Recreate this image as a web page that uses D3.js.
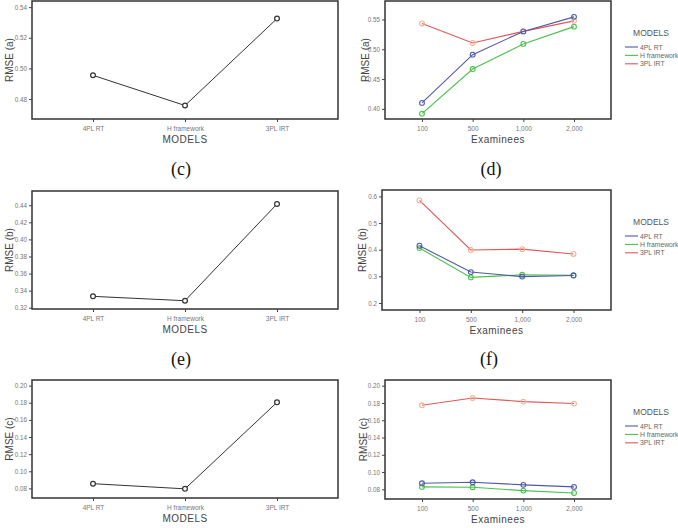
<!DOCTYPE html>
<html><head><meta charset="utf-8">
<script src="https://cdn.jsdelivr.net/npm/d3@7"></script>
<style>
html,body{margin:0;padding:0;background:#fff;}
svg{display:block;}
</style></head>
<body>
<svg id="chart" width="678" height="528"></svg>
<script>
// ---- data ----
const models = ["4PL RT", "H framework", "3PL IRT"];
const examinees = ["100", "500", "1,000", "2,000"];

const rmseA_models = [0.4955, 0.4758, 0.5325];
const rmseB_models = [0.3333, 0.3282, 0.4415];
const rmseC_models = [0.0855, 0.0795, 0.1805];

const rmseA_4PL = [0.410, 0.491, 0.530, 0.5544];
const rmseA_H   = [0.392, 0.4668, 0.509, 0.538];
const rmseA_3PL = [0.5433, 0.5106, 0.530, 0.5477];

const rmseB_4PL = [0.415, 0.316, 0.299, 0.303];
const rmseB_H   = [0.406, 0.296, 0.306, 0.304];
const rmseB_3PL = [0.585, 0.399, 0.402, 0.384];

const rmseC_4PL = [0.0870, 0.0882, 0.0852, 0.0828];
const rmseC_H   = [0.0828, 0.0824, 0.0785, 0.0758];
const rmseC_3PL = [0.1773, 0.1858, 0.1816, 0.1793];

const ticksA_left = [0.48, 0.50, 0.52, 0.54];
const ticksA_right = [0.40, 0.45, 0.50, 0.55];
const ticksB_left = [0.32, 0.34, 0.36, 0.38, 0.40, 0.42, 0.44];
const ticksB_right = [0.2, 0.3, 0.4, 0.5, 0.6];
const ticksC = [0.08, 0.10, 0.12, 0.14, 0.16, 0.18, 0.20];

const seriesNames = ["4PL RT", "H framework", "3PL IRT"];
const lineColors = ["#4e5aa8", "#4cc04c", "#e05858"];
const markerColors = ["#4e5aa8", "#4cc04c", "#f0b496"];

const svg = d3.select("#chart");
const tickFont = "Liberation Sans, Arial, sans-serif";

function frame(g, f) {
  g.append("rect").attr("x", f.x0).attr("y", f.y0)
    .attr("width", f.x1 - f.x0).attr("height", f.y1 - f.y0)
    .attr("fill", "none").attr("stroke", "#333").attr("stroke-width", 1.5);
}

function axes(g, f, x, y, yTicks, yFmt, xLabel, yLabel, yLabelX) {
  const ya = d3.axisLeft(y).tickValues(yTicks).tickFormat(yFmt).tickSize(3).tickPadding(2);
  const gy = g.append("g").attr("transform", `translate(${f.x0},0)`).call(ya);
  gy.select(".domain").remove();
  gy.selectAll("line").attr("stroke", "#444");
  gy.selectAll("text").attr("font-family", tickFont).attr("font-size", 6.3).attr("fill", "#777");
  const xa = d3.axisBottom(x).tickSize(3).tickPadding(4);
  const gx = g.append("g").attr("transform", `translate(0,${f.y1})`).call(xa);
  gx.select(".domain").remove();
  gx.selectAll("line").attr("stroke", "#444");
  gx.selectAll("text").attr("font-family", tickFont).attr("font-size", 6.5).attr("fill", "#777");
  g.append("text").attr("x", (f.x0 + f.x1) / 2).attr("y", f.y1 + 24)
    .attr("text-anchor", "middle").attr("font-family", tickFont).attr("font-size", 10)
    .attr("letter-spacing", 0.5).attr("fill", "#444").text(xLabel);
  g.append("text").attr("transform", `translate(${yLabelX},${(f.y0 + f.y1) / 2}) rotate(-90)`)
    .attr("text-anchor", "middle").attr("dominant-baseline", "central")
    .attr("font-family", tickFont).attr("font-size", 10)
    .attr("fill", "#444").text(yLabel);
}

function modelPanel(f, vals, yDomain, yTicks, yLabel) {
  const g = svg.append("g");
  const x = d3.scalePoint().domain(models).range([f.x0, f.x1]).padding(0.663);
  const y = d3.scaleLinear().domain(yDomain).range([f.y1, f.y0]);
  frame(g, f);
  axes(g, f, x, y, yTicks, d3.format(".2f"), "MODELS", yLabel, 9);
  const data = models.map((m, i) => ({ k: m, v: vals[i] }));
  g.append("path").datum(data)
    .attr("d", d3.line().x(d => x(d.k)).y(d => y(d.v)))
    .attr("fill", "none").attr("stroke", "#333").attr("stroke-width", 1);
  g.selectAll("circle.m").data(data).join("circle")
    .attr("cx", d => x(d.k)).attr("cy", d => y(d.v)).attr("r", 2.4)
    .attr("fill", "#fff").attr("stroke", "#333").attr("stroke-width", 1.2);
}

function examPanel(f, seriesVals, yDomain, yTicks, yFmt, yLabel, yLabelX, legendY) {
  const g = svg.append("g");
  const x = d3.scalePoint().domain(examinees).range([f.x0, f.x1]).padding(0.73);
  const y = d3.scaleLinear().domain(yDomain).range([f.y1, f.y0]);
  frame(g, f);
  axes(g, f, x, y, yTicks, yFmt, "Examinees", yLabel, yLabelX);
  const order = [2, 1, 0];
  order.forEach(si => {
    const data = examinees.map((e, i) => ({ k: e, v: seriesVals[si][i] }));
    g.append("path").datum(data)
      .attr("d", d3.line().x(d => x(d.k)).y(d => y(d.v)))
      .attr("fill", "none").attr("stroke", lineColors[si]).attr("stroke-width", 1.1);
    g.selectAll(null).data(data).join("circle")
      .attr("cx", d => x(d.k)).attr("cy", d => y(d.v)).attr("r", 2.4)
      .attr("fill", "none").attr("stroke", markerColors[si]).attr("stroke-width", 1.1);
  });
  // legend
  const lg = g.append("g");
  lg.append("text").attr("x", 651).attr("y", legendY).attr("text-anchor", "middle")
    .attr("font-family", tickFont).attr("font-size", 8.5).attr("fill", "#555").text("MODELS");
  seriesNames.forEach((n, i) => {
    const yy = legendY + 11 + i * 8.4;
    lg.append("line").attr("x1", 625).attr("x2", 638).attr("y1", yy).attr("y2", yy)
      .attr("stroke", lineColors[i]).attr("stroke-width", 1.1);
    lg.append("text").attr("x", 640).attr("y", yy).attr("dominant-baseline", "central")
      .attr("font-family", tickFont).attr("font-size", 6.8).attr("fill", "#666").text(n);
  });
}

function title(x, y, t) {
  svg.append("text").attr("x", x).attr("y", y).attr("text-anchor", "middle")
    .attr("font-family", "Liberation Serif, Times New Roman, serif").attr("font-size", 18)
    .attr("fill", "#111").text(t);
}

const f2 = d3.format(".2f"), f1 = d3.format(".1f");

modelPanel({ x0: 32, y0: 1, x1: 338, y1: 119 }, rmseA_models, [0.467, 0.544], ticksA_left, "RMSE (a)");
examPanel({ x0: 385, y0: 1, x1: 611, y1: 119 }, [rmseA_4PL, rmseA_H, rmseA_3PL], [0.383, 0.581], ticksA_right, f2, "RMSE (a)", 365, 36);

modelPanel({ x0: 32, y0: 191, x1: 338, y1: 309 }, rmseB_models, [0.3185, 0.4567], ticksB_left, "RMSE (b)");
examPanel({ x0: 382, y0: 190, x1: 611, y1: 310 }, [rmseB_4PL, rmseB_H, rmseB_3PL], [0.1737, 0.624], ticksB_right, f1, "RMSE (b)", 362, 225);

modelPanel({ x0: 32, y0: 380, x1: 338, y1: 498 }, rmseC_models, [0.0688, 0.2066], ticksC, "RMSE (c)");
examPanel({ x0: 385, y0: 380, x1: 611, y1: 499 }, [rmseC_4PL, rmseC_H, rmseC_3PL], [0.0688, 0.2066], ticksC, f2, "RMSE (c)", 363, 415);

title(181, 175, "(c)");
title(491, 175, "(d)");
title(181, 365, "(e)");
title(489, 365, "(f)");
</script>
</body></html>
